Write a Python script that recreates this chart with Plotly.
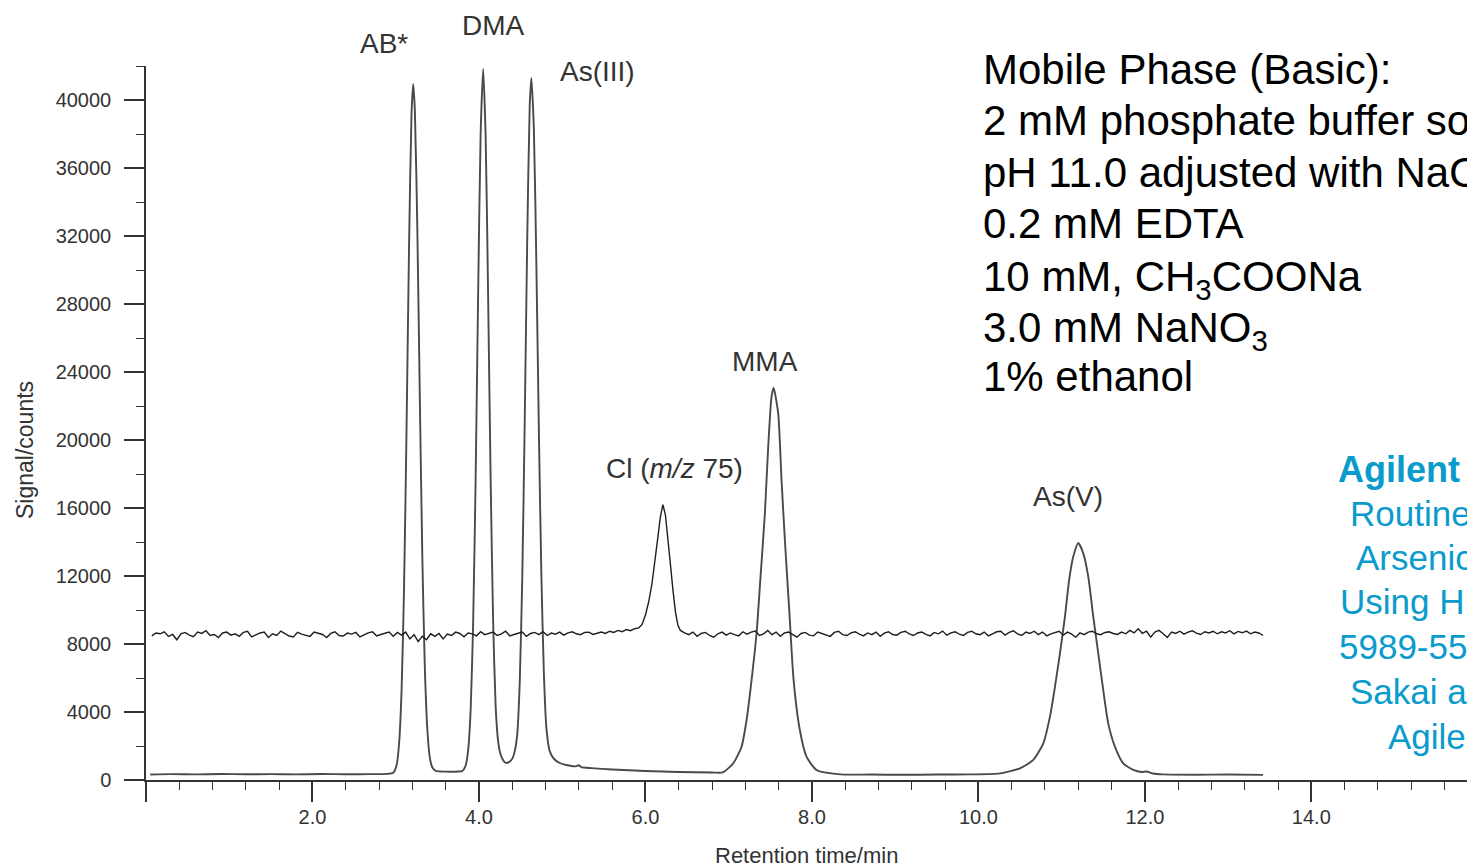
import plotly.graph_objects as go

# ---------------- data ----------------
# Arsenic species trace (m/z 75), retention time in min, signal in counts
LOWER_TIME = [0.05, 0.30, 0.60, 0.90, 1.20, 1.50, 1.80, 2.10, 2.40, 2.70, 2.90, 2.97,
              3.01, 3.04, 3.07, 3.10, 3.13, 3.16, 3.19, 3.21, 3.23, 3.26, 3.29, 3.32,
              3.35, 3.38, 3.41, 3.44, 3.48, 3.60, 3.75, 3.80, 3.84, 3.87, 3.90, 3.93,
              3.96, 3.99, 4.02, 4.05, 4.08, 4.11, 4.14, 4.17, 4.20, 4.23, 4.26, 4.30,
              4.33, 4.36, 4.40, 4.43, 4.46, 4.49, 4.52, 4.55, 4.58, 4.61, 4.63, 4.66,
              4.69, 4.72, 4.75, 4.78, 4.81, 4.85, 4.90, 4.97, 5.05, 5.15, 5.20, 5.23,
              5.35, 5.60, 6.00, 6.40, 6.80, 6.93, 7.055, 7.155, 7.215, 7.275, 7.335, 7.38,
              7.435, 7.475, 7.515, 7.54, 7.595, 7.635, 7.68, 7.73, 7.78, 7.855, 7.935, 8.055,
              8.34, 8.70, 9.10, 9.50, 9.90, 10.26, 10.50, 10.66, 10.78, 10.86, 10.92, 10.98,
              11.04, 11.09, 11.14, 11.20, 11.26, 11.32, 11.38, 11.44, 11.50, 11.56, 11.64, 11.74,
              11.86, 11.96, 12.02, 12.10, 12.22, 12.60, 13.00, 13.42]
LOWER_COUNTS = [320, 345, 330, 350, 335, 345, 330, 350, 340, 345, 360, 420,
                870, 2120, 5200, 11290, 20630, 31310, 39230, 40940, 39390, 32300, 22320, 13050,
                6570, 2970, 1320, 730, 540, 490, 500, 530, 850, 1740, 4090, 9220,
                17720, 28500, 37960, 41820, 37960, 28500, 17800, 9400, 4400, 2300, 1500, 1100,
                1000, 1050, 1250, 1700, 2680, 5760, 11830, 21150, 31800, 39700, 41290, 38250,
                30250, 20500, 12060, 6270, 3070, 1700, 1250, 1000, 880, 800, 870, 760,
                700, 620, 530, 470, 440, 450, 980, 1960, 3530, 5880, 8630, 11760,
                15690, 19610, 22550, 23060, 21570, 17650, 13720, 9800, 5880, 2940, 1370, 590,
                330, 320, 305, 320, 330, 390, 690, 1180, 2160, 3730, 5490, 7450,
                9610, 11760, 13140, 13940, 13330, 11960, 9610, 7450, 5290, 3330, 1960, 980,
                590, 470, 500, 380, 330, 310, 320, 300]

# Chloride interference trace (m/z 75), offset baseline with noise
UPPER_TIME = [0.07, 0.12, 0.17, 0.22, 0.27, 0.32, 0.37, 0.42, 0.47, 0.52, 0.57, 0.62,
              0.67, 0.72, 0.77, 0.82, 0.87, 0.92, 0.97, 1.02, 1.07, 1.12, 1.17, 1.22,
              1.27, 1.32, 1.37, 1.42, 1.47, 1.52, 1.57, 1.62, 1.67, 1.72, 1.77, 1.82,
              1.87, 1.92, 1.97, 2.02, 2.07, 2.12, 2.17, 2.22, 2.27, 2.32, 2.37, 2.42,
              2.47, 2.52, 2.57, 2.62, 2.67, 2.72, 2.77, 2.82, 2.87, 2.92, 2.97, 3.02,
              3.07, 3.12, 3.17, 3.22, 3.27, 3.32, 3.37, 3.42, 3.47, 3.52, 3.57, 3.62,
              3.67, 3.72, 3.77, 3.82, 3.87, 3.92, 3.97, 4.02, 4.07, 4.12, 4.17, 4.22,
              4.27, 4.32, 4.37, 4.42, 4.47, 4.52, 4.57, 4.62, 4.67, 4.72, 4.77, 4.82,
              4.87, 4.92, 4.97, 5.02, 5.07, 5.12, 5.17, 5.22, 5.27, 5.32, 5.37, 5.42,
              5.47, 5.52, 5.57, 5.62, 5.67, 5.72, 5.77, 5.82, 5.87, 5.92, 5.96, 6.00,
              6.04, 6.08, 6.12, 6.15, 6.18, 6.21, 6.24, 6.27, 6.30, 6.33, 6.36, 6.39,
              6.42, 6.47, 6.52, 6.57, 6.62, 6.67, 6.72, 6.77, 6.82, 6.87, 6.92, 6.97,
              7.02, 7.07, 7.12, 7.17, 7.22, 7.27, 7.32, 7.37, 7.42, 7.47, 7.52, 7.57,
              7.62, 7.67, 7.72, 7.77, 7.82, 7.87, 7.92, 7.97, 8.02, 8.07, 8.12, 8.17,
              8.22, 8.27, 8.32, 8.37, 8.42, 8.47, 8.52, 8.57, 8.62, 8.67, 8.72, 8.77,
              8.82, 8.87, 8.92, 8.97, 9.02, 9.07, 9.12, 9.17, 9.22, 9.27, 9.32, 9.37,
              9.42, 9.47, 9.52, 9.57, 9.62, 9.67, 9.72, 9.77, 9.82, 9.87, 9.92, 9.97,
              10.02, 10.07, 10.12, 10.17, 10.22, 10.27, 10.32, 10.37, 10.42, 10.47, 10.52, 10.57,
              10.62, 10.67, 10.72, 10.77, 10.82, 10.87, 10.92, 10.97, 11.02, 11.07, 11.12, 11.17,
              11.22, 11.27, 11.32, 11.37, 11.42, 11.47, 11.52, 11.57, 11.62, 11.67, 11.72, 11.77,
              11.82, 11.87, 11.92, 11.97, 12.02, 12.07, 12.12, 12.17, 12.22, 12.27, 12.32, 12.37,
              12.42, 12.47, 12.52, 12.57, 12.62, 12.67, 12.72, 12.77, 12.82, 12.87, 12.92, 12.97,
              13.02, 13.07, 13.12, 13.17, 13.22, 13.27, 13.32, 13.37, 13.42]
UPPER_COUNTS = [8480, 8650, 8600, 8720, 8450, 8560, 8250, 8600, 8680, 8520, 8430, 8700,
                8620, 8780, 8500, 8560, 8380, 8650, 8700, 8520, 8600, 8450, 8680, 8750,
                8420, 8560, 8650, 8700, 8380, 8600, 8500, 8760, 8620, 8470, 8420, 8690,
                8580, 8530, 8450, 8700, 8640, 8560, 8380, 8620, 8720, 8500, 8470, 8640,
                8580, 8680, 8420, 8550, 8650, 8720, 8480, 8560, 8650, 8700, 8450, 8680,
                8520, 8700, 8300, 8550, 8150, 8450, 8250, 8600, 8450, 8620, 8300, 8580,
                8500, 8700, 8620, 8420, 8650, 8600, 8480, 8720, 8550, 8620, 8700, 8500,
                8600, 8750, 8480, 8560, 8650, 8700, 8450, 8620, 8680, 8550, 8720, 8500,
                8640, 8580, 8700, 8520, 8650, 8720, 8600, 8550, 8680, 8700, 8560, 8650,
                8700, 8620, 8750, 8680, 8800, 8720, 8850, 8780, 8900, 8950, 9150, 9700,
                10500, 11600, 13000, 14300, 15500, 16200, 15600, 14300, 12700, 11200, 9900, 9100,
                8800, 8650, 8550, 8700, 8450, 8620, 8680, 8500, 8400, 8600, 8700, 8520,
                8650, 8550, 8480, 8720, 8580, 8700, 8760, 8500, 8600, 8800, 8550, 8700,
                8450, 8650, 8700, 8550, 8400, 8620, 8680, 8520, 8480, 8700, 8620, 8560,
                8450, 8680, 8750, 8550, 8500, 8650, 8720, 8580, 8480, 8650, 8550, 8700,
                8450, 8640, 8720, 8560, 8520, 8680, 8750, 8600, 8500, 8650, 8700, 8570,
                8480, 8680, 8600, 8760, 8520, 8650, 8720, 8580, 8500, 8680, 8750, 8600,
                8550, 8700, 8480, 8600, 8720, 8750, 8520, 8680, 8780, 8600, 8500, 8700,
                8620, 8750, 8550, 8700, 8480, 8600, 8680, 8750, 8520, 8700, 8580, 8400,
                8650, 8550, 8700, 8750, 8600, 8550, 8680, 8720, 8620, 8560, 8700, 8600,
                8800, 8650, 8900, 8620, 8750, 8400, 8700, 8800, 8600, 8380, 8700, 8620,
                8750, 8580, 8700, 8780, 8640, 8560, 8720, 8650, 8750, 8600, 8720, 8650,
                8780, 8600, 8740, 8660, 8760, 8600, 8700, 8650, 8500]

# axis ticks
X_TICK_VALUES = [0, 2, 4, 6, 8, 10, 12, 14]
X_TICK_TEXT = [" ", "2.0", "4.0", "6.0", "8.0", "10.0", "12.0", "14.0"]
Y_TICK_VALUES = [0, 4000, 8000, 12000, 16000, 20000, 24000, 28000, 32000, 36000, 40000]
Y_TICK_TEXT = ["0", "4000", "8000", "12000", "16000", "20000", "24000", "28000",
               "32000", "36000", "40000"]
X_RANGE = [0, 15.87]
Y_RANGE = [0, 42000]

# peak labels (text, retention time, counts where the label sits)
PEAK_LABELS = ["AB*", "DMA", "As(III)", "Cl (<i>m/z</i> 75)", "MMA", "As(V)"]
PEAK_LABEL_TIME = [2.86, 4.17, 5.43, 6.35, 7.44, 11.08]
PEAK_LABEL_COUNTS = [43350, 44400, 41650, 18350, 24600, 16650]

MOBILE_PHASE_LINES = ["Mobile Phase (Basic):",
                      "2 mM phosphate buffer solution",
                      "pH 11.0 adjusted with NaOH",
                      "0.2 mM EDTA",
                      "10 mM, CH<sub>3</sub>COONa",
                      "3.0 mM NaNO<sub>3</sub>",
                      "1% ethanol"]

REFERENCE_LINES = ["<b>Agilent Application Note</b>",
                   "Routine Analysis of Toxic",
                   "Arsenic Species in Urine",
                   "Using HPLC with ICP-MS",
                   "5989-5505EN",
                   "Sakai and Wilbur",
                   "Agilent Technologies"]

# ---------------- figure ----------------
W, H = 1467, 867
ML, MR, MT, MB = 146, 0, 66, 87
PW, PH = W - ML - MR, H - MT - MB

FONT = "Liberation Sans, Arial, Helvetica, sans-serif"
INK = "#333333"


def px_to_paper(px, py):
    return (px - ML) / PW, (H - MB - py) / PH


fig = go.Figure()
fig.add_trace(go.Scatter(x=LOWER_TIME, y=LOWER_COUNTS, mode="lines",
                         line=dict(color="#4a4a4a", width=1.9, shape="spline", smoothing=0.6),
                         showlegend=False, hoverinfo="skip"))
fig.add_trace(go.Scatter(x=UPPER_TIME, y=UPPER_COUNTS, mode="lines",
                         line=dict(color="#1e1e1e", width=1.4),
                         showlegend=False, hoverinfo="skip"))

annotations = []
for txt, t, c in zip(PEAK_LABELS, PEAK_LABEL_TIME, PEAK_LABEL_COUNTS):
    annotations.append(dict(x=t, y=c / Y_RANGE[1], xref="x", yref="paper", text=txt,
                            showarrow=False, xanchor="center", yanchor="middle",
                            font=dict(family=FONT, size=28, color=INK)))

# axis titles
ax, ay = px_to_paper(806, 855)
annotations.append(dict(x=ax, y=ay, xref="paper", yref="paper", text="Retention time/min",
                        showarrow=False, xanchor="center", yanchor="middle",
                        font=dict(family=FONT, size=22, color=INK)))
ax, ay = px_to_paper(25, 450)
annotations.append(dict(x=ax, y=ay, xref="paper", yref="paper", text="Signal/counts",
                        showarrow=False, xanchor="center", yanchor="middle", textangle=-90,
                        font=dict(family=FONT, size=23, color=INK)))

# mobile phase block, one annotation per line
MP_Y = [70, 121, 172, 223, 274, 325, 376]
for txt, yy in zip(MOBILE_PHASE_LINES, MP_Y):
    mx, my = px_to_paper(981, yy)
    annotations.append(dict(x=mx, y=my, xref="paper", yref="paper", text=txt,
                            showarrow=False, xanchor="left", yanchor="middle", align="left",
                            yshift=-5 if "<sub>" in txt else 0,
                            font=dict(family=FONT, size=42, color="#000000")))

# reference block (blue)
REF_X = [1336, 1348, 1354, 1338, 1337, 1348, 1386]
REF_Y = [469, 513.5, 557, 601.5, 646.5, 691.5, 736.5]
for i, (txt, rx, ry) in enumerate(zip(REFERENCE_LINES, REF_X, REF_Y)):
    px_, py_ = px_to_paper(rx, ry)
    annotations.append(dict(x=px_, y=py_, xref="paper", yref="paper", text=txt,
                            showarrow=False, xanchor="left", yanchor="middle", align="left",
                            font=dict(family=FONT, size=36 if i == 0 else 35,
                                      color="#0a9bcd")))

fig.update_layout(
    width=W, height=H,
    margin=dict(l=ML, r=MR, t=MT, b=MB),
    paper_bgcolor="white", plot_bgcolor="white",
    showlegend=False,
    annotations=annotations,
    xaxis=dict(range=X_RANGE, showline=True, linecolor=INK, linewidth=1.5,
               ticks="outside", ticklen=20, tickwidth=1.5, tickcolor=INK,
               tickmode="array", tickvals=X_TICK_VALUES, ticktext=X_TICK_TEXT,
               ticklabelstandoff=-2,
               tickfont=dict(family=FONT, size=20, color=INK),
               showgrid=False, zeroline=False,
               minor=dict(ticks="outside", ticklen=8, tickwidth=1.3, tickcolor=INK,
                          tick0=0, dtick=0.4, showgrid=False)),
    yaxis=dict(range=Y_RANGE, showline=True, linecolor=INK, linewidth=1.5,
               ticks="outside", ticklen=20, tickwidth=1.5, tickcolor=INK,
               tickmode="array", tickvals=Y_TICK_VALUES, ticktext=Y_TICK_TEXT,
               ticklabelstandoff=9,
               tickfont=dict(family=FONT, size=20, color=INK),
               showgrid=False, zeroline=False,
               minor=dict(ticks="outside", ticklen=8, tickwidth=1.3, tickcolor=INK,
                          tick0=0, dtick=2000, showgrid=False)),
)

fig.write_html("out.html")
